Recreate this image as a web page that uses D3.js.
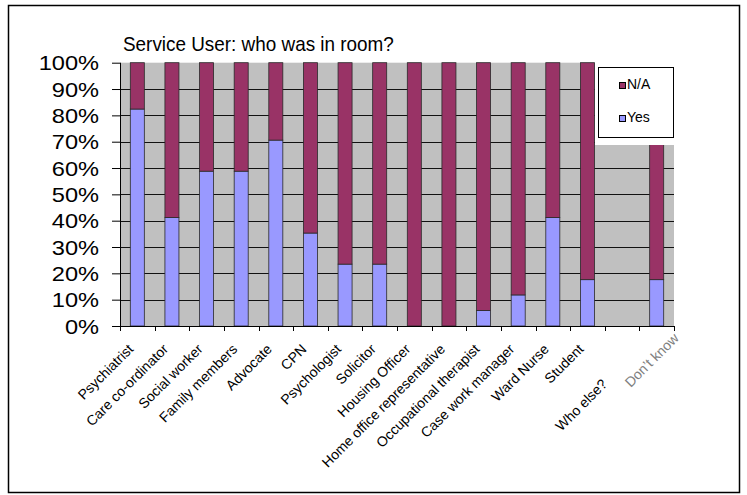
<!DOCTYPE html>
<html>
<head>
<meta charset="utf-8">
<script src="https://cdn.jsdelivr.net/npm/d3@7"></script>
<style>
  body { margin: 0; background: #ffffff; }
  svg { display: block; font-family: Arial, "Liberation Sans", sans-serif; }
</style>
</head>
<body>
<svg id="svg1" width="747" height="495"></svg>
<script>
// chart data
var categories = ['Psychiatrist', 'Care co-ordinator', 'Social  worker', 'Family members', 'Advocate', 'CPN',
    'Psychologist', 'Solicitor', 'Housing Officer', 'Home office representative', 'Occupational therapist',
    'Case work manager', 'Ward Nurse', 'Student', 'Who else?', 'Don\u2019t know'];
var yesValues = [82.4, 41.2, 58.8, 58.8, 70.6, 35.3, 23.5, 23.5, 0, 0, 5.9, 11.8, 41.2, 17.6, null, 17.6];
var naValues = [17.6, 58.8, 41.2, 41.2, 29.4, 64.7, 76.5, 76.5, 100, 100, 94.1, 88.2, 58.8, 82.4, null, 82.4];
var seriesNames = ['N/A', 'Yes'];
var yTicks = [0, 10, 20, 30, 40, 50, 60, 70, 80, 90, 100];
var chartTitle = 'Service User: who was in room?';

var colors = { 'N/A': '#993366', 'Yes': '#9999ff' };

var svg = d3.select('#svg1');
var plotLeft = 120, plotRight = 674, plotTop = 62.7, plotBottom = 326;

var x = d3.scaleBand().domain(categories).range([plotLeft, plotRight])
    .paddingInner(0.595).paddingOuter(0.2975);
var y = d3.scaleLinear().domain([0, 100]).range([plotBottom, plotTop]);

// outer frame
svg.append('rect').attr('x', 8.5).attr('y', 5.5).attr('width', 731).attr('height', 487)
    .attr('fill', '#ffffff').attr('stroke', '#000000').attr('stroke-width', 1.5);

// title
svg.append('text').attr('x', 123).attr('y', 51)
    .attr('font-size', 21).attr('fill', '#000000')
    .attr('transform', 'translate(123,0) scale(0.9,1) translate(-123,0)')
    .text(chartTitle);

// plot background
svg.append('rect').attr('x', plotLeft).attr('y', plotTop)
    .attr('width', plotRight - plotLeft).attr('height', plotBottom - plotTop)
    .attr('fill', '#c0c0c0');

// gridlines
svg.append('g').selectAll('line').data(yTicks.filter(function (d) { return d > 0 && d < 100; }))
    .enter().append('line')
    .attr('x1', plotLeft).attr('x2', plotRight)
    .attr('y1', function (d) { return Math.round(y(d)) + 0.5; })
    .attr('y2', function (d) { return Math.round(y(d)) + 0.5; })
    .attr('stroke', '#111111').attr('stroke-width', 1);

// stacked bars
var rows = categories.map(function (c, i) {
    return { cat: c, Yes: yesValues[i], 'N/A': naValues[i] };
}).filter(function (r) { return r.Yes != null; });

var stack = d3.stack().keys(['Yes', 'N/A']);
var layers = stack(rows);

svg.append('g').selectAll('g').data(layers).enter().append('g')
    .attr('fill', function (d) { return colors[d.key]; })
    .selectAll('rect').data(function (d) { return d; }).enter()
    .filter(function (d) { return d[1] - d[0] > 0; })
    .append('rect')
    .attr('x', function (d) { return x(d.data.cat); })
    .attr('width', x.bandwidth())
    .attr('y', function (d) { return y(d[1]); })
    .attr('height', function (d) { return y(d[0]) - y(d[1]); })
    .attr('stroke', '#2a2a2a').attr('stroke-width', 0.8);

// white patch behind legend
svg.append('rect').attr('x', 595).attr('y', plotTop - 1).attr('width', plotRight - 595 + 1)
    .attr('height', 145 - plotTop + 1).attr('fill', '#ffffff');

// y axis
var yAxis = svg.append('g').attr('transform', 'translate(' + plotLeft + ',0)')
    .call(d3.axisLeft(y).tickValues(yTicks).tickSize(8).tickFormat(function (d) { return d + '%'; }));
yAxis.select('.domain').attr('stroke', '#000000').attr('d', 'M0.5,' + plotTop + 'V' + plotBottom);
yAxis.selectAll('.tick line').attr('stroke', '#000000');
yAxis.selectAll('.tick text')
    .attr('font-family', 'Arial, "Liberation Sans", sans-serif')
    .attr('font-size', 20).attr('fill', '#000000')
    .attr('x', 0).attr('dy', '0.36em')
    .attr('transform', 'translate(-21,0) scale(1.18,1)');

// x axis line and ticks at band edges
var step = x.step();
var edges = d3.range(categories.length + 1).map(function (i) { return plotLeft + i * step; });
svg.append('line').attr('x1', plotLeft - 8).attr('x2', plotRight + 1)
    .attr('y1', plotBottom + 0.5).attr('y2', plotBottom + 0.5).attr('stroke', '#000000');
svg.append('g').selectAll('line').data(edges).enter().append('line')
    .attr('x1', function (d) { return Math.round(d) + 0.5; })
    .attr('x2', function (d) { return Math.round(d) + 0.5; })
    .attr('y1', plotBottom).attr('y2', plotBottom + 5)
    .attr('stroke', '#000000');

// category labels, rotated
var labelShift = { 'Who else?': [-11, 35], 'Don\u2019t know': [26, -11] };
svg.append('g').selectAll('text').data(categories).enter().append('text')
    .attr('font-size', 14)
    .attr('text-anchor', 'end')
    .attr('fill', function (d) { return d == 'Don\u2019t know' ? '#808080' : '#000000'; })
    .attr('transform', function (d) {
        var s = labelShift[d] || [0, 0];
        var cx = x(d) + x.bandwidth() / 2 - 3 + s[0];
        var cy = plotBottom + 24 + s[1];
        return 'translate(' + cx + ',' + cy + ') rotate(-45)';
    })
    .text(function (d) { return d; });

// legend
svg.append('rect').attr('x', 598.5).attr('y', 67.5).attr('width', 75).attr('height', 70)
    .attr('fill', '#ffffff').attr('stroke', '#000000').attr('stroke-width', 1);
var legend = svg.append('g').selectAll('g').data(seriesNames).enter().append('g')
    .attr('transform', function (d, i) { return 'translate(619,' + (82 + i * 33) + ')'; });
legend.append('rect').attr('x', 0.5).attr('y', 0.5).attr('width', 6).attr('height', 6)
    .attr('fill', function (d) { return colors[d]; })
    .attr('stroke', '#000000').attr('stroke-width', 1);
legend.append('text').attr('x', 8).attr('y', 7).attr('font-size', 14)
    .attr('fill', '#000000').text(function (d) { return d; });
</script>
</body>
</html>
